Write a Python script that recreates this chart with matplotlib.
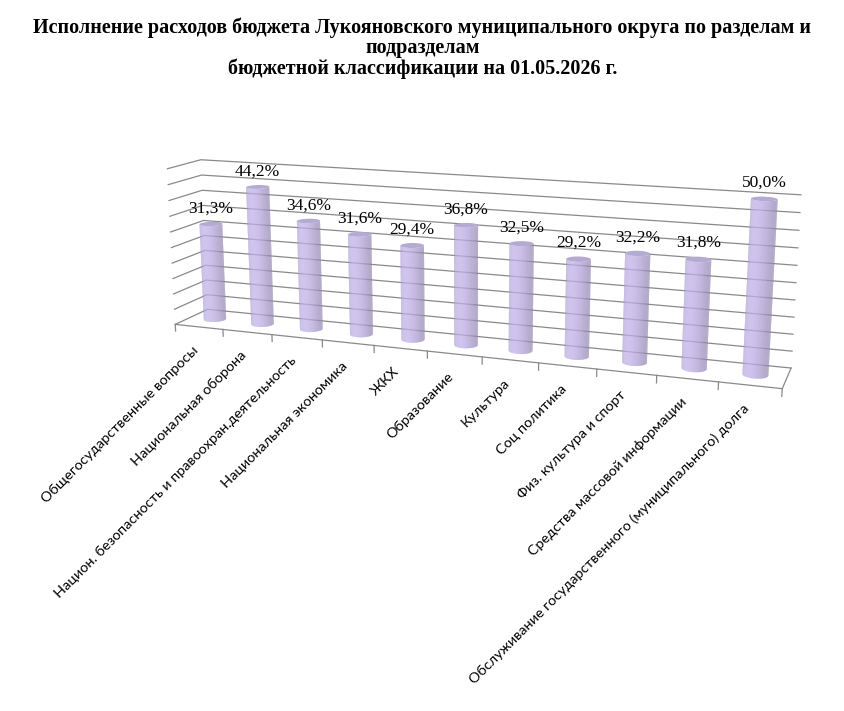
import numpy as np
import matplotlib.pyplot as plt
from mpl_toolkits.mplot3d import proj3d
from mpl_toolkits.mplot3d.art3d import Poly3DCollection

plt.rcParams['font.family'] = ['Lato', 'DejaVu Sans']

# ---------------------------------------------------------------------------
# data
# ---------------------------------------------------------------------------
categories = ['Общегосударственные вопросы',
              'Национальная оборона',
              'Национ. безопасность и правоохран.деятельность',
              'Национальная экономика',
              'ЖКХ',
              'Образование',
              'Культура',
              'Соц политика',
              'Физ. культура и спорт',
              'Средства массовой информации',
              'Обслуживание государственного (муниципального) долга']
values = [31.3, 44.2, 34.6, 31.6, 29.4, 36.8, 32.5, 29.2, 32.2, 31.8, 50.0]
grid_levels = [0, 5, 10, 15, 20, 25, 30, 35, 40, 45, 50]

title = ('Исполнение расходов бюджета Лукояновского муниципального округа по разделам и\n'
         'подразделам\n'
         'бюджетной классификации на 01.05.2026 г.')

bar_color = np.array([172, 158, 208]) / 255.0
cap_color = np.array([180, 170, 210]) / 255.0
grid_color = '#8a8a8a'

# ---------------------------------------------------------------------------
# figure
# ---------------------------------------------------------------------------
fig = plt.figure(figsize=(8.45, 7.11), dpi=100)
fig.text(0.5, 0.975, title, ha='center', va='top', fontsize=14.5,
         family='Liberation Serif', weight='bold', linespacing=1.0)

elev, azim, focal = 13, -70, 0.5
ax = fig.add_axes([0.1186, 0.269, 0.85, 0.7], projection='3d', computed_zorder=False)
ax.patch.set_alpha(0)
ax.set_proj_type('persp', focal_length=focal)
ax.view_init(elev=elev, azim=azim)

n = len(values)
x0, x1 = -0.5, n - 0.5
y0, y1 = 0.0, 1.15
zmax = grid_levels[-1]
ax.set_xlim(x0, x1)
ax.set_ylim(y0, y1)
ax.set_zlim(0, zmax)
ax.set_box_aspect((x1 - x0, y1 - y0, 2.9), zoom=1.294)
ax.set_axis_off()

# walls: left side and back gridlines
for z in grid_levels:
    ax.plot([x0, x0, x1], [y0, y1, y1], [z, z, z], color=grid_color, lw=0.9,
            zorder=1, clip_on=False)
# floor front and right edge
ax.plot([x0, x1, x1], [y0, y0, y1], [0, 0, 0], color=grid_color, lw=0.9,
        zorder=1, clip_on=False)
# tick marks hanging under the front edge
for b in np.arange(x0, x1 + 0.01, 1.0):
    ax.plot([b, b], [y0, y0], [0, -2.2], color=grid_color, lw=0.9,
            zorder=1, clip_on=False)

# eye position in data units, used to keep only the visible half of each cylinder
A = ax._box_aspect
eye_n = A / 2 + 10 * focal * np.array([np.cos(np.radians(elev)) * np.cos(np.radians(azim)),
                                       np.cos(np.radians(elev)) * np.sin(np.radians(azim)),
                                       np.sin(np.radians(elev))])
eye_x = x0 + eye_n[0] / A[0] * (x1 - x0)
eye_y = y0 + eye_n[1] / A[1] * (y1 - y0)

# cylinders
r = 0.205
yc = (y0 + y1) / 2
for i, v in enumerate(values):
    phi = np.arctan2(eye_y - yc, eye_x - i)
    theta = np.linspace(phi - np.radians(95), phi + np.radians(95), 60)
    th, zz = np.meshgrid(theta, [0, v])
    X = i + r * np.cos(th)
    Y = yc + r * np.sin(th)
    lit = np.clip(np.cos(th - (phi - np.radians(30))), 0, 1) ** 1.5
    k = 0.86 + 0.26 * lit
    fc = np.clip(bar_color[None, None, :] * k[:, :, None], 0, 1)
    fc = np.concatenate([fc, np.ones(fc.shape[:2] + (1,))], axis=2)
    surf = ax.plot_surface(X, Y, zz, facecolors=fc, shade=False, linewidth=0,
                           antialiased=True, rstride=1, cstride=1, zorder=3 + i)
    surf.set_clip_on(False)
    ring = np.linspace(0, 2 * np.pi, 73)
    cap = list(zip(i + r * np.cos(ring), yc + r * np.sin(ring), np.full(ring.shape, v)))
    top = Poly3DCollection([cap], facecolor=cap_color, edgecolor='none',
                           zorder=3.5 + i)
    top.set_clip_on(False)
    ax.add_collection3d(top)

# texts are placed at projected 3d points
fig.canvas.draw()
M = ax.get_proj()
to_fig = fig.transFigure.inverted()


def screen(x, y, z):
    xs, ys, _ = proj3d.proj_transform(x, y, z, M)
    return ax.transData.transform((xs, ys))


# value labels above the cylinders
for i, v in enumerate(values):
    px, py = screen(i, yc, v + 2.4)
    fig.text(*to_fig.transform((px, py)), f'{v:.1f}%'.replace('.', ','),
             ha='center', va='bottom', fontsize=12.5, family='Liberation Serif')

# category labels, hung under the front edge of each slot
for i, name in enumerate(categories):
    px, py = screen(i, y0, 0)
    fig.text(*to_fig.transform((px - 3, py - 21)), name, rotation=45, ha='right',
             va='center', rotation_mode='anchor', fontsize=10.4)

fig.savefig('out.png', dpi=100)
